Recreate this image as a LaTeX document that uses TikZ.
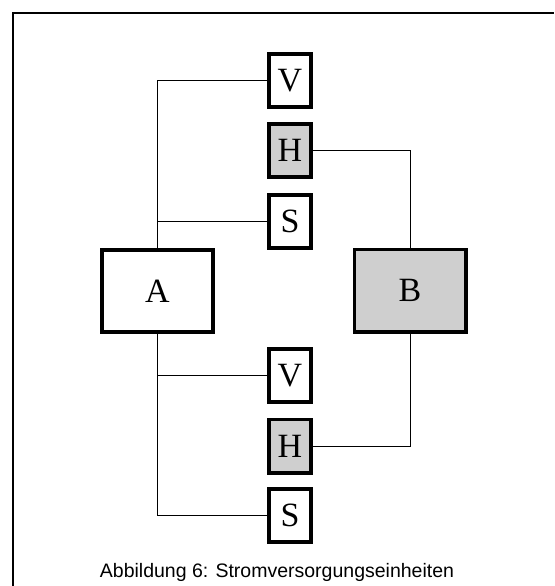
\documentclass[tikz,border=0pt]{standalone}
\usepackage{fontspec}
\setmainfont{Liberation Serif}
\newfontfamily\capfont{Liberation Sans}
\begin{document}
\begin{tikzpicture}[x=1pt,y=-1pt,
  unit/.style={draw=black,line width=3.6pt,inner sep=0pt,
    minimum width=42.4pt,minimum height=53.4pt,
    font=\fontsize{34}{36}\selectfont},
  big/.style={draw=black,line width=3.6pt,inner sep=0pt,
    minimum width=111.4pt,minimum height=82.4pt,
    font=\fontsize{34}{36}\selectfont},
  shaded/.style={fill=black!19},
  wire/.style={draw=black,line width=1pt}]
  \useasboundingbox (0,0) rectangle (554,586);
  % open frame: left and top edges
  \draw[line width=1.6pt] (13,586) -- (13,13) -- (554,13);

  % main units
  \node[big] (A) at (157.5,291) {A};
  \node[big,shaded] (B) at (410,290.5) {B};

  % upper group
  \node[unit] (V1) at (290,80.5) {V};
  \node[unit,shaded] (H1) at (290,150.5) {H};
  \node[unit] (S1) at (290,221.5) {S};

  % lower group
  \node[unit] (V2) at (290,375.5) {V};
  \node[unit,shaded] (H2) at (290,446) {H};
  \node[unit] (S2) at (290,515.5) {S};

  % connections
  \draw[wire] (V1.west) -| (A.north);
  \draw[wire] (S1.west) -- (S1.west -| A.north);
  \draw[wire] (H1.east) -| (B.north);
  \draw[wire] (A.south) |- (S2.west);
  \draw[wire] (V2.west) -- (V2.west -| A.south);
  \draw[wire] (H2.east) -| (B.south);

  % caption
  \node[anchor=base,inner sep=0pt,font=\capfont\fontsize{19.5}{22}\selectfont]
    (cap) at (277,577) {Abbildung 6: Stromversorgungseinheiten};
\end{tikzpicture}
\end{document}
